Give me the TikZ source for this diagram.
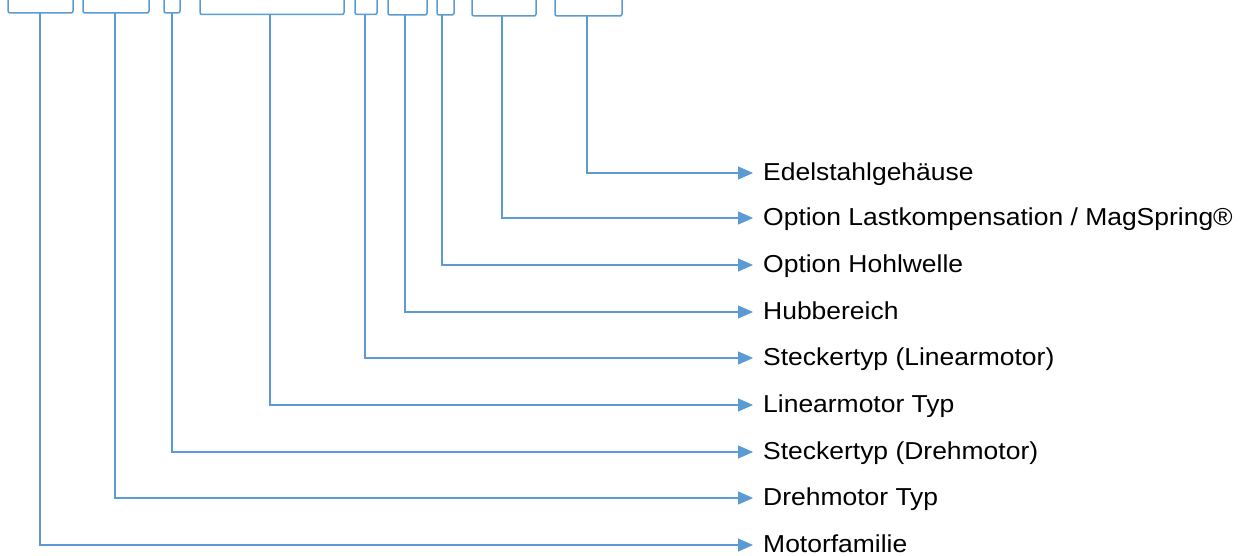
\documentclass[tikz,border=0pt]{standalone}
\usepackage{fontspec}
\setmainfont{Liberation Sans}
\usetikzlibrary{arrows.meta}
\definecolor{lineblue}{HTML}{5B9BD5}
\newcommand{\wide}[1]{\scalebox{1.08}[1]{#1}}
\tikzset{
  brk/.style={draw=lineblue, line width=1.5pt, rounded corners=2pt},
  conn/.style={draw=lineblue, line width=1.2pt, -{Triangle[length=15pt,width=13pt]}, shorten >=10pt},
  lbl/.style={anchor=west, inner sep=0pt, text height=17.5pt, text depth=3.1pt, font=\fontsize{24.5pt}{28pt}\selectfont}
}
\begin{document}
\begin{tikzpicture}[x=1pt,y=-1pt]
\useasboundingbox (0,0) rectangle (1244,556);
% brackets
\foreach \l/\r/\b/\s/\n in {8/73/13/40/1, 83/149/13/115/2, 164/180/13/172/3, 200/344/14.5/270/4, 355/377/14.5/365/5, 388/427/15/405/6, 437/454/15/442/7, 472/536/16/502/8, 555/622/16/587/9}{
  \draw[brk] (\l,0) -- (\l,\b) -- (\r,\b) -- (\r,0);
  \coordinate (s\n) at (\s,\b);
}
% labels
\node[lbl] (l9) at (763,173) {\wide{Edelstahlgehäuse}};
\node[lbl] (l8) at (763,218) {\wide{Option Lastkompensation / MagSpring®}};
\node[lbl] (l7) at (763,265) {\wide{Option Hohlwelle}};
\node[lbl] (l6) at (763,312) {\wide{Hubbereich}};
\node[lbl] (l5) at (763,358) {\wide{Steckertyp (Linearmotor)}};
\node[lbl] (l4) at (763,405) {\wide{Linearmotor Typ}};
\node[lbl] (l3) at (763,452) {\wide{Steckertyp (Drehmotor)}};
\node[lbl] (l2) at (763,498) {\wide{Drehmotor Typ}};
\node[lbl] (l1) at (763,545) {\wide{Motorfamilie}};
% connectors
\foreach \n in {1,...,9}{
  \draw[conn] (s\n) |- (l\n);
}
\end{tikzpicture}
\end{document}
